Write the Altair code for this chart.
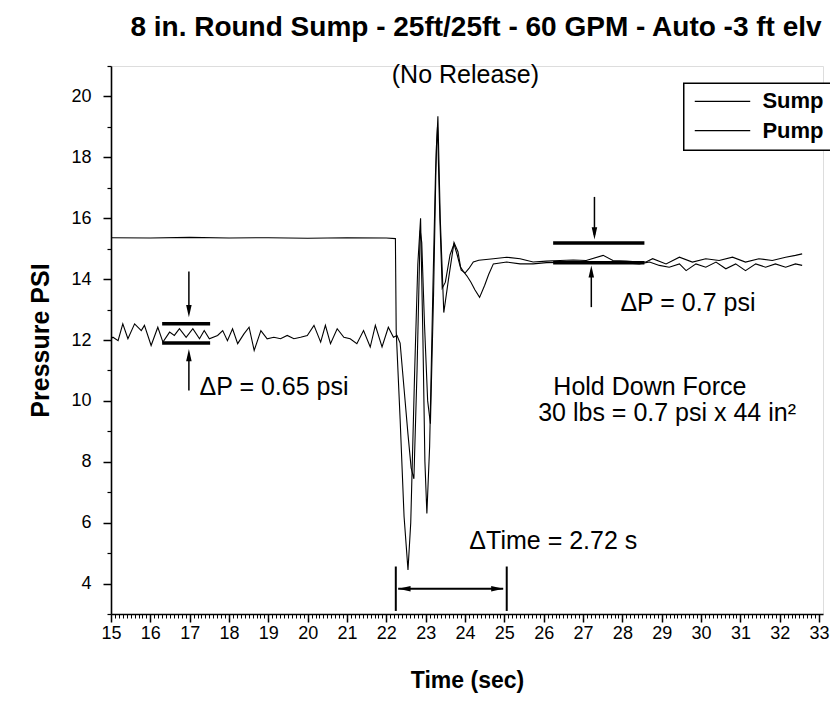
import altair as alt
import pandas as pd

# ---------------- data ----------------
sump_t = [15.0, 15.05, 15.18, 15.30, 15.43, 15.60, 15.77, 15.85, 16.02, 16.19, 16.32, 16.49,
          16.61, 16.74, 16.91, 17.08, 17.25, 17.37, 17.50, 17.71, 17.84, 17.96, 18.09, 18.22,
          18.38, 18.51, 18.64, 18.81, 18.97, 19.14, 19.31, 19.48, 19.65, 19.82, 19.99, 20.16,
          20.33, 20.45, 20.58, 20.75, 20.92, 21.08, 21.25, 21.42, 21.59, 21.72, 21.89, 22.05,
          22.18, 22.27,
          22.35, 22.45, 22.55, 22.63, 22.70, 22.78, 22.86, 22.90, 22.97, 23.05, 23.12, 23.20,
          23.27, 23.30, 23.36, 23.42, 23.50, 23.62, 23.72, 23.80, 23.88, 23.96, 24.05, 24.15,
          24.25, 24.37, 24.50, 24.60, 24.72,
          25.06, 25.40, 25.73, 26.07, 26.41, 26.75, 27.08, 27.42, 27.76, 28.10, 28.43, 28.69,
          28.94, 29.19, 29.45, 29.62, 29.87, 30.12, 30.38, 30.63, 30.88, 31.13, 31.39, 31.64,
          31.89, 32.15, 32.40, 32.57]
sump_p = [12.05, 12.09, 11.98, 12.53, 12.04, 12.53, 12.31, 12.48, 11.82, 12.42, 11.93, 12.26,
          12.15, 12.37, 12.09, 12.37, 12.04, 12.31, 12.04, 12.15, 12.31, 11.98, 12.37, 11.88,
          12.20, 12.42, 11.66, 12.31, 12.04, 12.09, 12.04, 12.15, 12.04, 12.09, 12.15, 12.48,
          11.93, 12.48, 11.88, 12.37, 12.09, 12.04, 11.88, 12.31, 11.77, 12.48, 11.77, 12.42,
          12.09, 12.15,
          11.90, 10.40, 8.90, 7.80, 7.44, 11.00, 15.60, 15.20, 12.50, 10.00, 9.25, 13.50,
          18.30, 19.00, 16.00, 13.70, 13.90, 14.80, 15.15, 14.80, 14.40, 14.25, 14.10, 13.90,
          13.65, 13.40, 13.80, 14.15, 14.50,
          14.56, 14.50, 14.50, 14.54, 14.55, 14.56, 14.53, 14.53, 14.54, 14.53, 14.50, 14.56,
          14.45, 14.39, 14.50, 14.28, 14.50, 14.39, 14.56, 14.34, 14.50, 14.28, 14.50, 14.39,
          14.50, 14.39, 14.50, 14.45]

pump_t = [15.0, 16.0, 17.0, 18.0, 19.0, 20.0, 21.0, 22.0, 22.23,
          22.25, 22.35, 22.45, 22.55, 22.62, 22.72, 22.80, 22.87, 22.93, 22.98, 23.03, 23.10,
          23.18, 23.25, 23.31, 23.37, 23.46, 23.58, 23.72, 23.82, 23.90, 24.00, 24.10, 24.21,
          24.35,
          24.72, 25.06, 25.40, 25.73, 26.07, 26.41, 26.75, 27.08, 27.51, 27.76, 28.10, 28.43,
          28.60, 28.77, 29.11, 29.45, 29.78, 30.12, 30.46, 30.80, 31.13, 31.47, 31.81, 32.15,
          32.40, 32.57]
pump_p = [15.36, 15.35, 15.37, 15.35, 15.36, 15.34, 15.36, 15.35, 15.33,
          12.30, 9.40, 6.20, 4.45, 6.00, 11.00, 14.50, 16.00, 12.00, 8.00, 6.30, 8.50,
          13.50, 17.50, 19.35, 16.00, 12.90, 14.00, 15.20, 14.90, 14.30, 14.20, 14.35, 14.56,
          14.62,
          14.67, 14.72, 14.67, 14.56, 14.59, 14.61, 14.63, 14.61, 14.78, 14.61, 14.59, 14.56,
          14.56, 14.67, 14.50, 14.72, 14.56, 14.67, 14.61, 14.72, 14.56, 14.67, 14.61, 14.72,
          14.78, 14.83]

series_names = ["Sump", "Pump"]
x_major = list(range(15, 34))
y_major = [4, 6, 8, 10, 12, 14, 16, 18, 20]
x_minor = [round(15 + 0.1 * i, 1) for i in range(181) if i % 10 != 0]
y_minor = [3, 5, 7, 9, 11, 13, 15, 17, 19, 21]

# legend box / entries (in data units)
legend_box_x = [29.56]
legend_box_x2 = [34.3]
legend_box_y = [20.43]
legend_box_y2 = [18.23]
legend_line_x1 = [29.84, 29.84]
legend_line_x2 = [31.25, 31.25]
legend_row_y = [19.84, 18.88]
legend_label_x = [31.56, 31.56]

# annotation values
bar_x1 = [16.30, 16.30, 26.24, 26.24]
bar_x2 = [17.52, 17.52, 28.56, 28.56]
bar_y = [12.53, 11.90, 15.19, 14.54]

shaft_x = [16.98, 16.98, 27.29, 27.21]
shaft_y1 = [14.25, 10.34, 16.70, 13.08]
shaft_y2 = [12.90, 11.55, 15.45, 14.30]
head_x = [16.98, 16.98, 27.29, 27.21]
head_y = [12.95, 11.50, 15.50, 14.25]
head_dir = ["down", "up", "down", "up"]

dt_x = [22.24, 25.06]
dt_y1 = [3.10, 3.10]
dt_y2 = [4.56, 4.56]
dt_arrow_x1 = [22.30]
dt_arrow_x2 = [24.97]
dt_arrow_y = [3.83]
dt_head_x = [22.46, 24.82]
dt_head_y = [3.83, 3.83]
dt_head_dir = ["left", "right"]

note_text = ["(No Release)", "\u0394P = 0.65 psi", "\u0394P = 0.7 psi", "Hold Down Force",
             "30 lbs = 0.7 psi x 44 in\u00b2", "\u0394Time = 2.72 s"]
note_x = [24.01, 17.25, 27.95, 28.70, 25.86, 24.11]
note_y = [20.69, 10.47, 13.20, 10.47, 9.59, 5.41]
note_align = ["center", "left", "left", "center", "left", "left"]

# ---------------- chart ----------------
FONT = "Liberation Sans"
W, H = 712, 548

df = pd.concat([
    pd.DataFrame({"t": sump_t, "p": sump_p, "series": "Sump"}),
    pd.DataFrame({"t": pump_t, "p": pump_p, "series": "Pump"}),
])

xs = alt.Scale(domain=[15, 33.1], nice=False, zero=False)
ys = alt.Scale(domain=[3, 21], nice=False, zero=False)

minor = alt.Chart(df).mark_line(opacity=0).encode(
    x=alt.X("t:Q", scale=xs, axis=alt.Axis(orient="bottom", values=x_minor, labels=False,
                                           domain=False, tickSize=4, tickWidth=1,
                                           tickColor="black", grid=False, title="")),
    y=alt.Y("p:Q", scale=ys, axis=alt.Axis(orient="left", values=y_minor, labels=False,
                                           domain=False, tickSize=4, tickWidth=1.2,
                                           tickColor="black", grid=False, title="")),
)

main = alt.Chart(df).mark_line(strokeWidth=1.1).encode(
    x=alt.X("t:Q", scale=xs, axis=alt.Axis(
        orient="bottom", values=x_major, format="d", tickSize=8, tickWidth=1.5,
        tickColor="black", domainColor="black", domainWidth=1.6, grid=False,
        labelFont=FONT, labelFontSize=18, labelColor="black", labelPadding=2,
        labelFlush=False, labelOverlap=False,
        title="Time (sec)", titleFont=FONT, titleFontSize=23, titleFontWeight="bold",
        titleColor="black", titlePadding=27)),
    y=alt.Y("p:Q", scale=ys, axis=alt.Axis(
        orient="left", values=y_major, format="d", tickSize=8, tickWidth=1.5,
        tickColor="black", domainColor="black", domainWidth=1.6, grid=False,
        labelFont=FONT, labelFontSize=18, labelColor="black", labelPadding=12,
        labelFlush=False,
        title="Pressure PSI", titleFont=FONT, titleFontSize=25, titleFontWeight="bold",
        titleColor="black", titlePadding=17)),
    color=alt.Color("series:N", scale=alt.Scale(domain=series_names, range=["black", "black"]),
                    legend=None),
    detail="series:N",
)

# legend drawn from the legend arrays
leg_box = alt.Chart(pd.DataFrame({"x": legend_box_x, "x2": legend_box_x2, "y": legend_box_y,
                                  "y2": legend_box_y2})).mark_rect(
    fill="white", stroke="black", strokeWidth=1.5).encode(
    x=alt.X("x:Q", scale=xs, axis=None), x2="x2:Q",
    y=alt.Y("y:Q", scale=ys, axis=None), y2="y2:Q")
leg_df = pd.DataFrame({"x1": legend_line_x1, "x2": legend_line_x2, "y": legend_row_y,
                       "lx": legend_label_x, "series": series_names})
leg_lines = alt.Chart(leg_df).mark_rule(color="black", strokeWidth=1.2).encode(
    x=alt.X("x1:Q", scale=xs, axis=None), x2="x2:Q", y=alt.Y("y:Q", scale=ys, axis=None))
leg_text = alt.Chart(leg_df).mark_text(
    align="left", baseline="middle", font=FONT, fontSize=22, fontWeight="bold",
    color="black").encode(
    x=alt.X("lx:Q", scale=xs, axis=None), y=alt.Y("y:Q", scale=ys, axis=None),
    text="series:N")

bars = alt.Chart(pd.DataFrame({"x1": bar_x1, "x2": bar_x2, "y": bar_y})).mark_rule(
    strokeWidth=3.5, color="black").encode(
    x=alt.X("x1:Q", scale=xs, axis=None), x2="x2:Q", y=alt.Y("y:Q", scale=ys, axis=None))

shafts = alt.Chart(pd.DataFrame({"x": shaft_x, "y1": shaft_y1, "y2": shaft_y2})).mark_rule(
    strokeWidth=1.5, color="black").encode(
    x=alt.X("x:Q", scale=xs, axis=None), y=alt.Y("y1:Q", scale=ys, axis=None), y2="y2:Q")

shape_map = {"down": "M -0.45 -1 L 0.45 -1 L 0 1 Z", "up": "M -0.45 1 L 0.45 1 L 0 -1 Z",
             "left": "M 1 -0.45 L 1 0.45 L -1 0 Z", "right": "M -1 -0.45 L -1 0.45 L 1 0 Z"}

heads_df = pd.DataFrame({"x": head_x + dt_head_x, "y": head_y + dt_head_y,
                         "dir": head_dir + dt_head_dir})
head_layers = []
for d, path in shape_map.items():
    head_layers.append(
        alt.Chart(heads_df[heads_df["dir"] == d]).mark_point(
            shape=path, filled=True, color="black", opacity=1, size=150).encode(
            x=alt.X("x:Q", scale=xs, axis=None), y=alt.Y("y:Q", scale=ys, axis=None)))

dt_bars = alt.Chart(pd.DataFrame({"x": dt_x, "y1": dt_y1, "y2": dt_y2})).mark_rule(
    strokeWidth=2, color="black").encode(
    x=alt.X("x:Q", scale=xs, axis=None), y=alt.Y("y1:Q", scale=ys, axis=None), y2="y2:Q")

dt_arrow = alt.Chart(pd.DataFrame({"x1": dt_arrow_x1, "x2": dt_arrow_x2, "y": dt_arrow_y})).mark_rule(
    strokeWidth=2, color="black").encode(
    x=alt.X("x1:Q", scale=xs, axis=None), x2="x2:Q", y=alt.Y("y:Q", scale=ys, axis=None))

notes_df = pd.DataFrame({"x": note_x, "y": note_y, "text": note_text, "align": note_align})
note_layers = []
for a in ["left", "center"]:
    note_layers.append(
        alt.Chart(notes_df[notes_df["align"] == a]).mark_text(
            align=a, baseline="middle", font=FONT, fontSize=25, color="black").encode(
            x=alt.X("x:Q", scale=xs, axis=None), y=alt.Y("y:Q", scale=ys, axis=None),
            text="text:N"))

chart = alt.layer(minor, main, leg_box, leg_lines, leg_text, bars, shafts, dt_bars, dt_arrow,
                  *head_layers, *note_layers).resolve_axis(
    x="independent", y="independent"
).properties(
    width=W, height=H,
    title=alt.TitleParams("8 in. Round Sump - 25ft/25ft - 60 GPM - Auto -3 ft elv",
                          font=FONT, fontSize=28, fontWeight="bold", color="black",
                          anchor="middle", dx=9, offset=21),
    padding={"left": 103, "top": 58, "right": 7, "bottom": 80},
    autosize=alt.AutoSizeParams(type="none"),
).configure_view(stroke=None).configure(background="white")

chart.save("out.html", embed_options={"renderer": "svg", "actions": False})
